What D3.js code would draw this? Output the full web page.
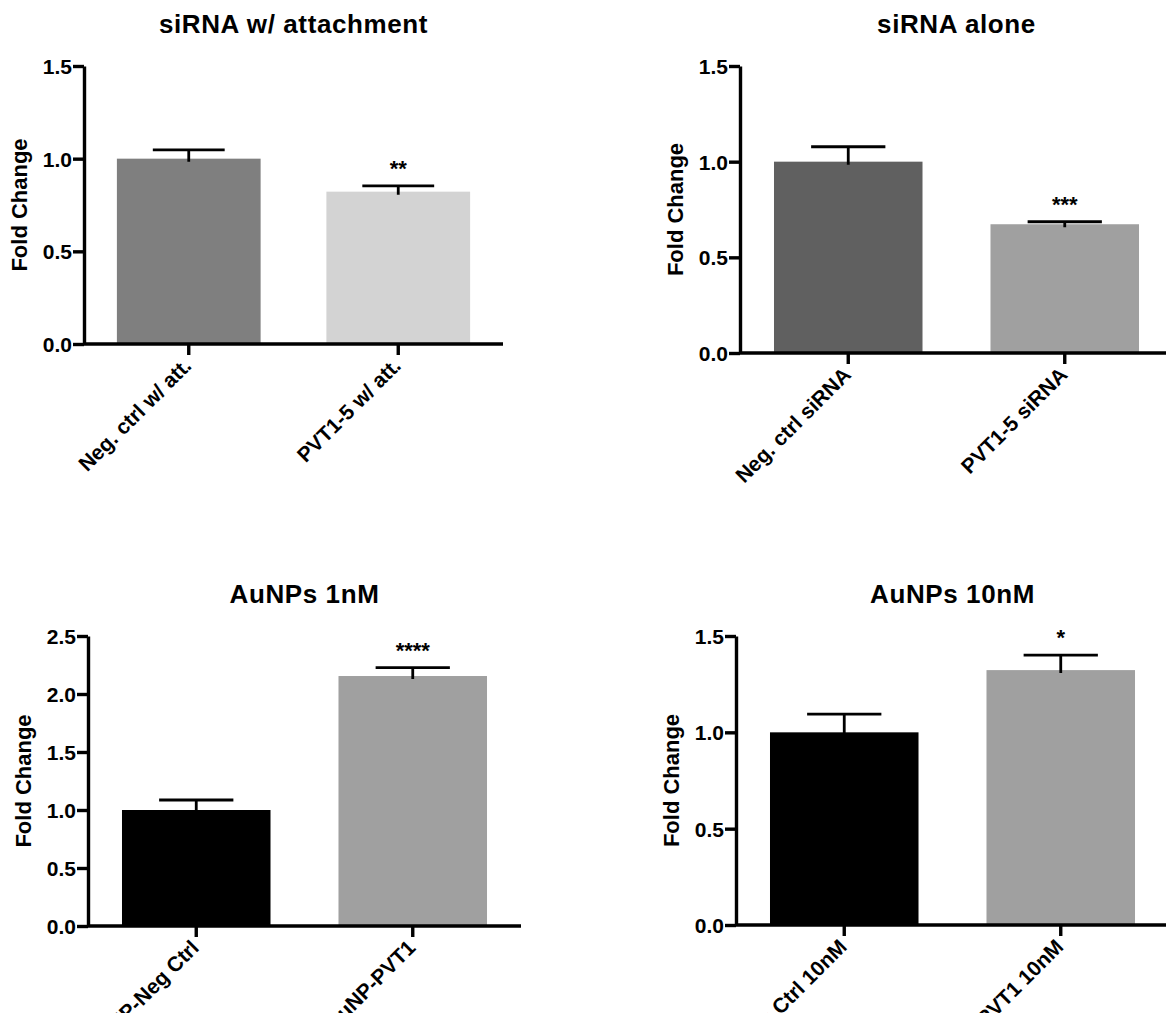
<!DOCTYPE html>
<html>
<head>
<meta charset="utf-8">
<script src="https://cdn.jsdelivr.net/npm/d3@7"></script>
<style>
  body { margin: 0; background: #fff; }
  svg { display: block; font-family: 'Liberation Sans', Arial, sans-serif; font-weight: bold; }
  .axis path, .axis line { stroke: #000; stroke-width: 3.4px; }
  .axis text { fill: #000; font-size: 21px; }
  .title { font-size: 26px; letter-spacing: 0.6px; }
  .ytitle { font-size: 22px; }
  .stars { font-size: 22px; }
  .err { stroke: #000; stroke-width: 2.8px; fill: none; }
</style>
</head>
<body>
<div id="chart"></div>
<script>
const WIDTH = 1166
const HEIGHT = 1013

// data, one entry per panel

const TITLES = ['siRNA w/ attachment', 'siRNA alone', 'AuNPs 1nM', 'AuNPs 10nM']

const CATEGORIES = [
  ['Neg. ctrl w/ att.', 'PVT1-5 w/ att.'],
  ['Neg. ctrl siRNA', 'PVT1-5 siRNA'],
  ['AuNP-Neg Ctrl', 'AuNP-PVT1'],
  ['AuNP-Neg Ctrl 10nM', 'AuNP-PVT1 10nM']
]

const MEANS = [
  [1.0, 0.822],
  [1.0, 0.673],
  [1.0, 2.155],
  [1.0, 1.323]
]

const SEMS = [
  [0.047, 0.031],
  [0.078, 0.013],
  [0.086, 0.072],
  [0.095, 0.078]
]

const STARS = [
  ['', '**'],
  ['', '***'],
  ['', '****'],
  ['', '*']
]

const Y_MAX = [1.5, 1.5, 2.5, 1.5]

const Y_TICKS = [
  [0, 0.5, 1.0, 1.5],
  [0, 0.5, 1.0, 1.5],
  [0, 0.5, 1.0, 1.5, 2.0, 2.5],
  [0, 0.5, 1.0, 1.5]
]

const Y_LABEL = 'Fold Change'

// styles & layout

const BAR_COLORS = [
  ['#7f7f7f', '#d3d3d3'],
  ['#606060', '#a0a0a0'],
  ['#000000', '#a0a0a0'],
  ['#000000', '#a0a0a0']
]

// plot frames: x0 = y axis, x1 = end of x axis, y0 = baseline, y1 = top of y axis
const FRAMES = [
  { x0: 84, x1: 503, y0: 344, y1: 66 },
  { x0: 740, x1: 1173, y0: 353, y1: 66 },
  { x0: 88, x1: 521, y0: 926, y1: 636 },
  { x0: 736, x1: 1169, y0: 925, y1: 636 }
]

const TICK = 11
const TITLE_GAP = 33
const YLABEL_GAP = 57
const STAR_GAP = 10

let svg = d3.select('#chart')
  .append('svg')
    .attr('width', WIDTH)
    .attr('height', HEIGHT)

TITLES.forEach((title, i) => {
  let f = FRAMES[i]

  let x = d3.scaleBand()
    .domain(CATEGORIES[i])
    .range([f.x0, f.x1])
    .paddingInner(0.314)
    .paddingOuter(0.157)

  let y = d3.scaleLinear()
    .domain([0, Y_MAX[i]])
    .range([f.y0, f.y1])

  let rows = CATEGORIES[i].map((c, j) => ({
    cat: c, mean: MEANS[i][j], sem: SEMS[i][j], stars: STARS[i][j], color: BAR_COLORS[i][j]
  }))

  let g = svg.append('g').attr('class', 'panel')

  // bars
  g.selectAll('.bar')
    .data(rows)
    .enter().append('rect')
      .attr('class', 'bar')
      .attr('x', (d) => x(d.cat))
      .attr('width', x.bandwidth())
      .attr('y', (d) => y(d.mean))
      .attr('height', (d) => y(0) - y(d.mean))
      .attr('fill', (d) => d.color)

  // error bars (upper SEM only)
  let cx = (d) => x(d.cat) + x.bandwidth() / 2
  let cap = x.bandwidth() / 4

  g.selectAll('.err')
    .data(rows)
    .enter().append('path')
      .attr('class', 'err')
      .attr('d', (d) => 'M' + cx(d) + ',' + (y(d.mean) + 3) +
                        'V' + y(d.mean + d.sem) +
                        'M' + (cx(d) - cap) + ',' + y(d.mean + d.sem) +
                        'H' + (cx(d) + cap))

  g.selectAll('.stars')
    .data(rows.filter((d) => d.stars))
    .enter().append('text')
      .attr('class', 'stars')
      .attr('text-anchor', 'middle')
      .attr('x', cx)
      .attr('y', (d) => y(d.mean + d.sem) - STAR_GAP)
      .text((d) => d.stars)

  // axes
  let yAxis = g.append('g')
    .attr('class', 'axis')
    .attr('transform', 'translate(' + f.x0 + ',0)')
    .call(d3.axisLeft(y)
      .tickValues(Y_TICKS[i])
      .tickFormat(d3.format('.1f'))
      .tickSize(TICK)
      .tickSizeOuter(0))

  yAxis.selectAll('.tick text')
    .attr('x', -TICK - 1)
    .attr('dy', '0.36em')

  let xAxis = g.append('g')
    .attr('class', 'axis')
    .attr('transform', 'translate(0,' + f.y0 + ')')
    .call(d3.axisBottom(x)
      .tickSize(TICK)
      .tickSizeOuter(0))

  xAxis.selectAll('.tick text')
    .attr('x', 0)
    .attr('y', 0)
    .attr('dy', 0)
    .attr('text-anchor', 'end')
    .attr('transform', 'translate(4,23) rotate(-45)')

  xAxis.select('.domain').attr('d', 'M' + f.x0 + ',0H' + f.x1)

  // titles
  g.append('text')
    .attr('class', 'title')
    .attr('text-anchor', 'middle')
    .attr('x', (f.x0 + f.x1) / 2)
    .attr('y', f.y1 - TITLE_GAP)
    .text(title)

  g.append('text')
    .attr('class', 'ytitle')
    .attr('text-anchor', 'middle')
    .attr('transform', 'translate(' + (f.x0 - YLABEL_GAP) + ',' + (f.y0 + f.y1) / 2 + ') rotate(-90)')
    .text(Y_LABEL)
})
</script>
</body>
</html>
